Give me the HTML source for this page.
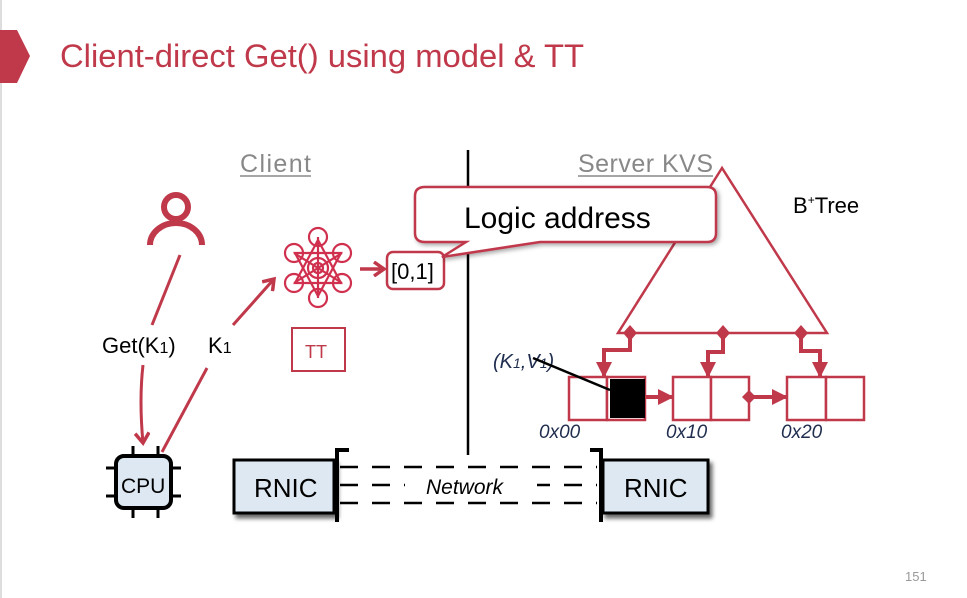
<!DOCTYPE html>
<html><head><style>
html,body{margin:0;padding:0;background:#fff;}
svg{display:block;font-family:"Liberation Sans",sans-serif;}
</style></head><body>
<svg width="967" height="598" viewBox="0 0 967 598" xmlns="http://www.w3.org/2000/svg">
<defs>
<marker id="ar" markerWidth="16" markerHeight="16" refX="11" refY="8" orient="auto" markerUnits="userSpaceOnUse"><path d="M1,1 L11,8 L1,15" fill="none" stroke="#c0394b" stroke-width="3.5"/></marker>
<marker id="tri" markerWidth="16" markerHeight="16" refX="14" refY="8" orient="auto" markerUnits="userSpaceOnUse"><path d="M0,0 L16,8 L0,16 z" fill="#c0394b"/></marker>
<filter id="sh" x="-20%" y="-20%" width="150%" height="150%"><feDropShadow dx="3" dy="4" stdDeviation="2" flood-color="#000" flood-opacity="0.6"/></filter>
<filter id="sh2" x="-20%" y="-20%" width="150%" height="150%"><feDropShadow dx="2" dy="2" stdDeviation="2" flood-color="#000" flood-opacity="0.35"/></filter>
</defs>
<rect x="0" y="0" width="2" height="598" fill="#ddd"/>
<path d="M0,30 L17,30 L30,56 L17,83 L0,83 z" fill="#c0394b"/>
<text x="60" y="67" font-size="32" fill="#c0394b" textLength="524" lengthAdjust="spacingAndGlyphs">Client-direct Get() using model &amp; TT</text>

<text x="240" y="172" font-size="25" fill="#888" textLength="71">Client</text>
<line x1="240" y1="176" x2="311" y2="176" stroke="#888" stroke-width="1.5"/>
<text x="578" y="172" font-size="25" fill="#888" textLength="135">Server KVS</text>
<line x1="578" y1="176" x2="713" y2="176" stroke="#888" stroke-width="1.5"/>
<line x1="468" y1="150" x2="468" y2="455" stroke="#000" stroke-width="2.5"/>

<circle cx="176" cy="207" r="12" fill="none" stroke="#c0394b" stroke-width="6"/>
<path d="M150,245 A26,22 0 0 1 202,245" fill="none" stroke="#c0394b" stroke-width="6"/>

<path d="M180,255 L152,325" stroke="#c0394b" stroke-width="3" fill="none"/>
<path d="M143,365 Q139,400 143,443" stroke="#c0394b" stroke-width="3" fill="none" marker-end="url(#ar)"/>
<path d="M162,452 L207,368" stroke="#c0394b" stroke-width="3" fill="none"/>
<path d="M233,325 L274,279" stroke="#c0394b" stroke-width="3" fill="none" marker-end="url(#ar)"/>
<text x="102" y="353" font-size="22" fill="#000">Get(K<tspan font-size="16">1</tspan>)</text>
<text x="208" y="353" font-size="22" fill="#000">K<tspan font-size="16">1</tspan></text>

<g stroke="#d0304e" stroke-width="2.2" fill="none">
<circle cx="318" cy="237" r="9"/><circle cx="318" cy="298" r="9"/>
<circle cx="294" cy="253" r="9"/><circle cx="342" cy="253" r="9"/>
<circle cx="294" cy="283" r="9"/><circle cx="342" cy="283" r="9"/>
<circle cx="318" cy="268" r="10"/><circle cx="318" cy="268" r="5"/>
<path d="M318,240 L295,283 L341,283 z"/><path d="M318,296 L295,253 L341,253 z"/>
<path d="M294,253 L342,283 M342,253 L294,283 M318,237 L318,298"/>
</g>
<path d="M360,269 L384,269" stroke="#c0394b" stroke-width="3.5" marker-end="url(#ar)"/>
<rect x="387" y="252" width="57" height="37" rx="6" fill="#fff" stroke="#c0394b" stroke-width="2.5"/>
<text x="391" y="279" font-size="22" fill="#000">[0,1]</text>
<rect x="292" y="328" width="53" height="43" fill="#fff" stroke="#c0394b" stroke-width="2"/>
<text x="305" y="358" font-size="18" fill="#c0394b">TT</text>

<path d="M722,168 L618,333 L827,333 z" fill="#fff" stroke="#c0394b" stroke-width="2.5"/>
<g filter="url(#sh2)">
<path d="M425,187 L707,187 Q716,187 716,196 L716,233 Q716,242 707,242 L540,242 L442,257 L466,242 L425,242 Q415,242 415,233 L415,196 Q415,187 425,187 z" fill="#fff" stroke="#c0394b" stroke-width="2.5"/>
</g>
<text x="464" y="228" font-size="30" fill="#000">Logic address</text>
<text x="793" y="213" font-size="22" fill="#000">B<tspan font-size="12" dy="-9">+</tspan><tspan dy="9">Tree</tspan></text>

<g fill="#c0394b">
<path d="M630,325 L637,333 L630,341 L623,333 z"/><path d="M723,325 L730,333 L723,341 L716,333 z"/><path d="M801,325 L808,333 L801,341 L794,333 z"/>
</g>
<g stroke="#c0394b" stroke-width="4" fill="none">
<path d="M630,333 L630,350 L604,350 L604,376" marker-end="url(#tri)"/>
<path d="M723,333 L723,352 L708,352 L708,376" marker-end="url(#tri)"/>
<path d="M801,333 L801,351 L820,351 L820,376" marker-end="url(#tri)"/>
</g>
<g fill="#fff" stroke="#c0394b" stroke-width="2.5">
<rect x="569" y="377" width="38" height="43"/><rect x="607" y="377" width="38" height="43"/>
<rect x="673" y="377" width="38" height="43"/><rect x="711" y="377" width="38" height="43"/>
<rect x="787" y="377" width="39" height="43"/><rect x="826" y="377" width="38" height="43"/>
</g>
<rect x="610" y="379" width="35" height="39" fill="#000"/>
<path d="M646,397 L672,397" stroke="#c0394b" stroke-width="4" marker-end="url(#tri)"/>
<path d="M750,397 L786,397" stroke="#c0394b" stroke-width="4" marker-end="url(#tri)"/>
<path d="M749,390 L756,397 L749,404 L742,397 z" fill="#c0394b"/>
<text x="493" y="368" font-size="20" font-style="italic" fill="#1f2d4e">(K<tspan font-size="14">1</tspan>,V<tspan font-size="14">1</tspan>)</text>
<line x1="533" y1="358" x2="610" y2="390" stroke="#000" stroke-width="2.5"/>
<g font-size="19" font-style="italic" fill="#1f2d4e">
<text x="539" y="438">0x00</text><text x="666" y="438">0x10</text><text x="781" y="438">0x20</text>
</g>

<g stroke="#000" stroke-width="3">
<line x1="133" y1="446" x2="133" y2="456"/><line x1="158" y1="446" x2="158" y2="456"/>
<line x1="133" y1="507" x2="133" y2="518"/><line x1="158" y1="507" x2="158" y2="518"/>
<line x1="106" y1="468" x2="116" y2="468"/><line x1="106" y1="496" x2="116" y2="496"/>
<line x1="170" y1="468" x2="181" y2="468"/><line x1="170" y1="496" x2="181" y2="496"/>
</g>
<rect x="116" y="456" width="55" height="52" rx="8" fill="#dde8f2" stroke="#000" stroke-width="4"/>
<text x="121" y="493" font-size="21" fill="#000">CPU</text>

<rect x="234" y="460" width="100" height="53" fill="#dde8f2" stroke="#000" stroke-width="3" filter="url(#sh)"/>
<text x="254" y="497" font-size="26" fill="#000">RNIC</text>
<rect x="603" y="460" width="105" height="53" fill="#dde8f2" stroke="#000" stroke-width="3" filter="url(#sh)"/>
<text x="624" y="497" font-size="26" fill="#000">RNIC</text>
<g stroke="#000" stroke-width="4" fill="none">
<path d="M349,450 L337,450 L337,522"/>
<path d="M590,450 L601,450 L601,522"/>
</g>
<g stroke="#000" stroke-width="2.5" stroke-dasharray="18,14">
<line x1="340" y1="467" x2="597" y2="467"/><line x1="340" y1="485" x2="597" y2="485"/><line x1="340" y1="503" x2="597" y2="503"/>
</g>
<rect x="405" y="475" width="132" height="22" fill="#fff"/>
<text x="426" y="494" font-size="21" font-style="italic" fill="#000">Network</text>

<text x="905" y="581" font-size="13" fill="#999">151</text>
</svg>
</body></html>
